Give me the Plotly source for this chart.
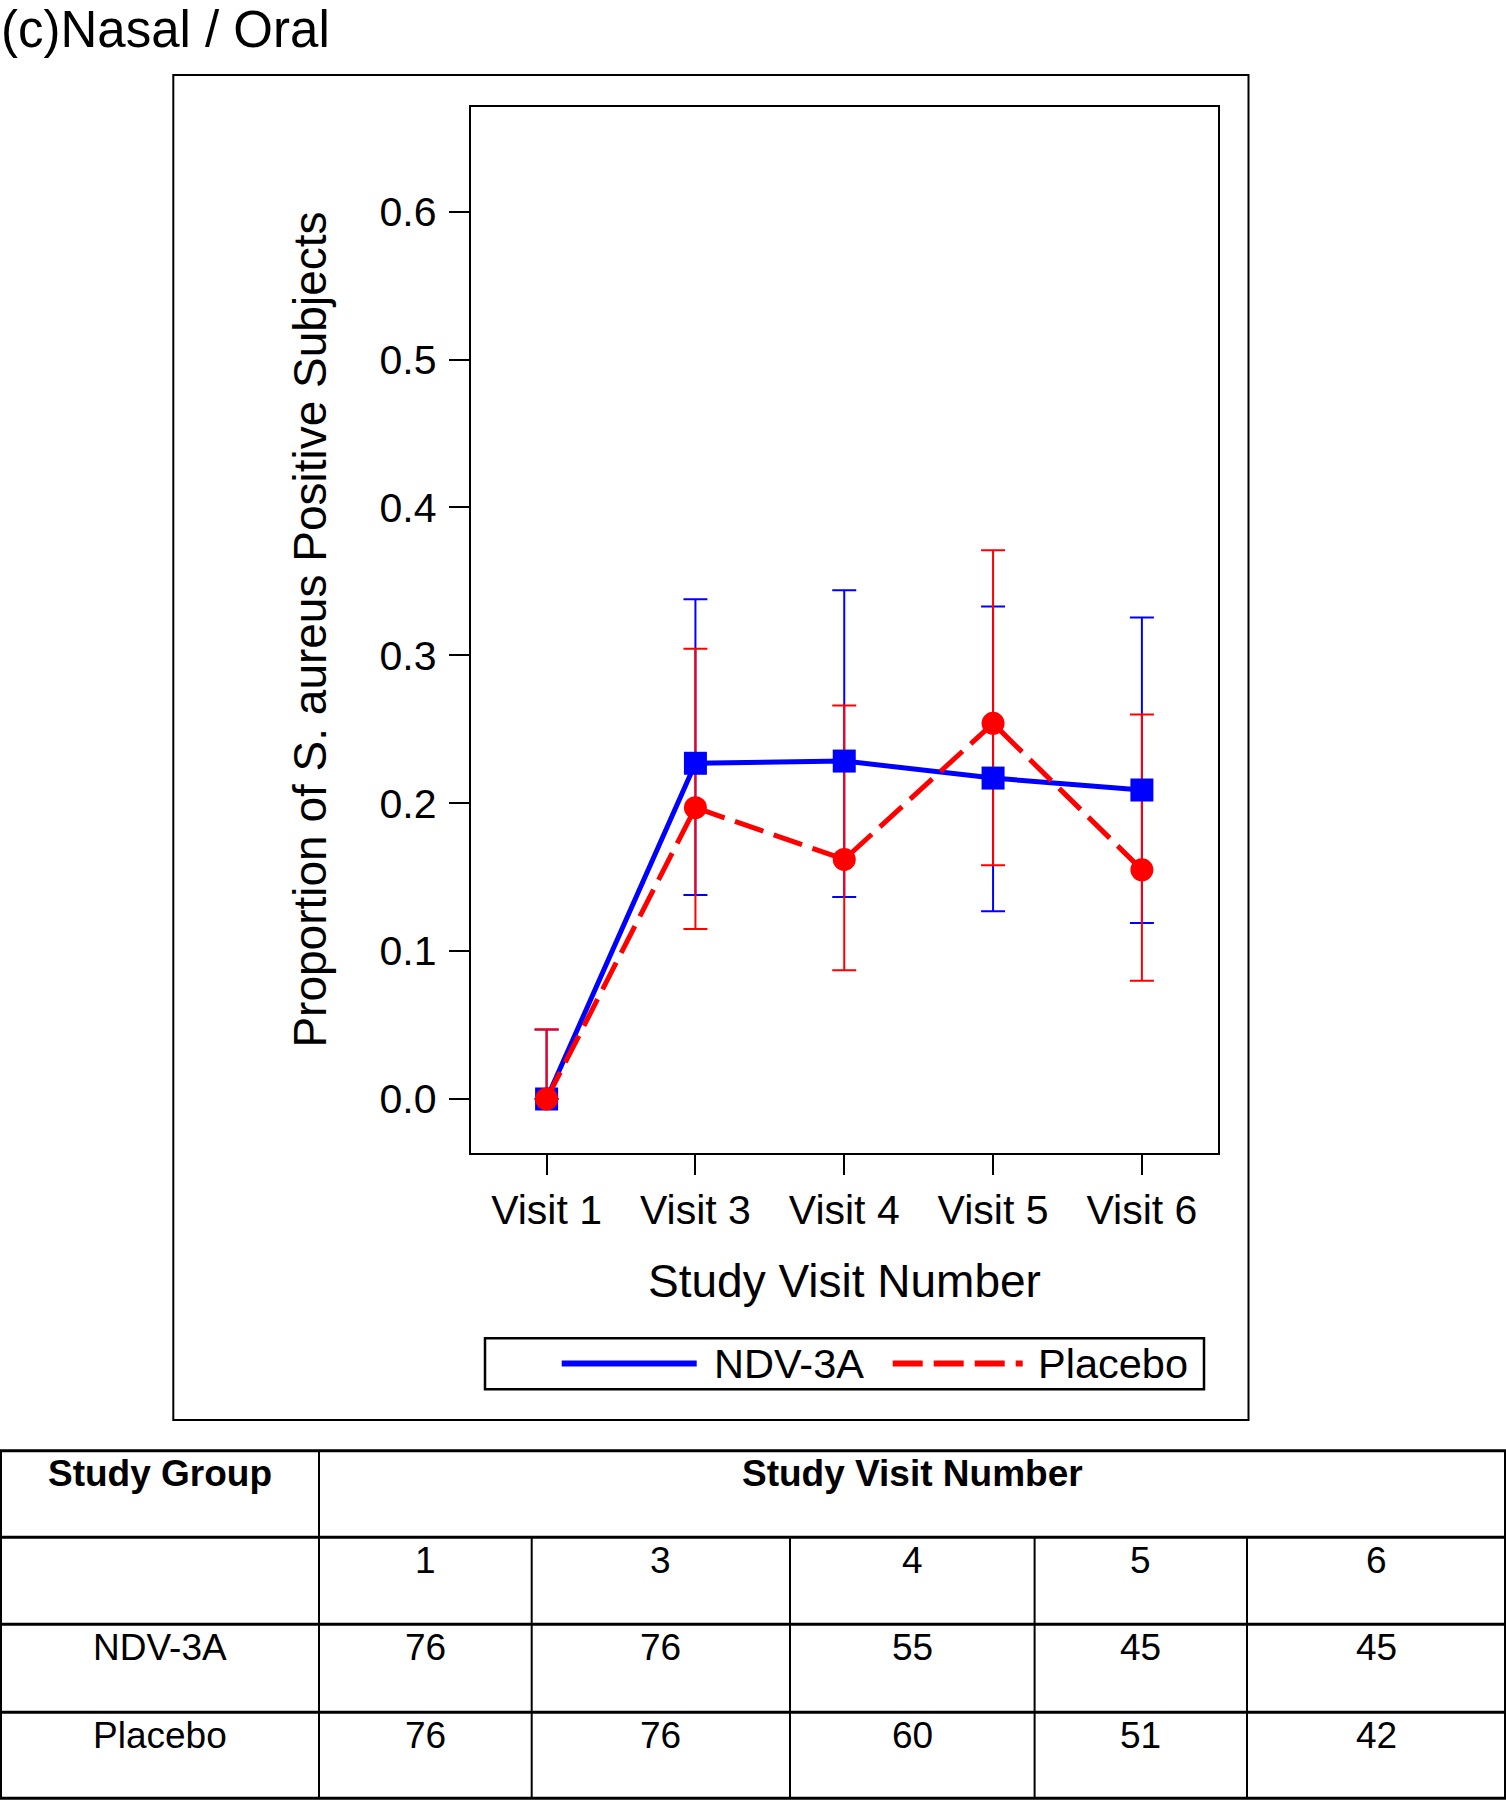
import plotly.graph_objects as go

# ---------------- data ----------------
visits = ["Visit 1", "Visit 3", "Visit 4", "Visit 5", "Visit 6"]

ndv_prop = [0.0, 0.227, 0.2285, 0.217, 0.209]
ndv_upper = [0.047, 0.338, 0.344, 0.333, 0.3255]
ndv_lower = [0.0, 0.138, 0.1366, 0.127, 0.119]

pla_prop = [0.0, 0.197, 0.162, 0.254, 0.155]
pla_upper = [0.047, 0.3045, 0.266, 0.371, 0.260]
pla_lower = [0.0, 0.115, 0.087, 0.158, 0.080]

y_ticks = [0.0, 0.1, 0.2, 0.3, 0.4, 0.5, 0.6]

table_group_header = "Study Group"
table_visit_header = "Study Visit Number"
table_visit_numbers = ["1", "3", "4", "5", "6"]
table_groups = ["NDV-3A", "Placebo"]
table_ndv_n = [76, 76, 55, 45, 45]
table_pla_n = [76, 76, 60, 51, 42]

title_text = "(c)Nasal / Oral"
x_title = "Study Visit Number"
y_title = "Proportion of S. aureus Positive Subjects"

# ---------------- layout helpers ----------------
W, H = 1506, 1800
FONT = "Liberation Sans, Arial, Helvetica, sans-serif"
BLUE = "#0000FF"
RED = "#FF0000"
DASH = "30px,11px"


def px(x):
    return x / W


def py(y):
    return 1 - y / H


def err_plus(p, up):
    return [u - v for u, v in zip(up, p)]


def err_minus(p, lo):
    return [v - l for v, l in zip(p, lo)]


fig = go.Figure()

# error bars first (so all markers sit on top)
fig.add_trace(go.Scatter(
    x=visits, y=ndv_prop, mode="markers", showlegend=False, hoverinfo="skip",
    marker=dict(size=1, color="rgba(0,0,0,0)"),
    error_y=dict(type="data", symmetric=False,
                 array=err_plus(ndv_prop, ndv_upper),
                 arrayminus=err_minus(ndv_prop, ndv_lower),
                 color=BLUE, thickness=2, width=12)))
fig.add_trace(go.Scatter(
    x=visits, y=pla_prop, mode="markers", showlegend=False, hoverinfo="skip",
    marker=dict(size=1, color="rgba(0,0,0,0)"),
    error_y=dict(type="data", symmetric=False,
                 array=err_plus(pla_prop, pla_upper),
                 arrayminus=err_minus(pla_prop, pla_lower),
                 color=RED, thickness=2, width=12)))

fig.add_trace(go.Scatter(
    x=visits, y=ndv_prop, mode="lines+markers", name="NDV-3A", showlegend=False,
    line=dict(color=BLUE, width=5),
    marker=dict(symbol="square", size=23, color=BLUE, line=dict(width=0))))
fig.add_trace(go.Scatter(
    x=visits, y=pla_prop, mode="lines+markers", name="Placebo", showlegend=False,
    line=dict(color=RED, width=5, dash=DASH),
    marker=dict(symbol="circle", size=23, color=RED, line=dict(width=0))))

plot_l, plot_r, plot_t, plot_b = 470.7, 1217.8, 106.7, 1152.5

axis_common = dict(showgrid=False, zeroline=False, showline=True, mirror=True,
                   linecolor="black", linewidth=2, ticks="outside", ticklen=20,
                   tickwidth=2, tickcolor="black",
                   tickfont=dict(family=FONT, size=41, color="black"))

fig.update_layout(
    width=W, height=H,
    margin=dict(l=0, r=0, t=0, b=0),
    paper_bgcolor="white", plot_bgcolor="white",
    showlegend=False,
    font=dict(family=FONT, color="black"),
    xaxis=dict(domain=[px(plot_l), px(plot_r)], type="category",
               range=[-0.51, 4.51], **axis_common),
    yaxis=dict(domain=[py(plot_b), py(plot_t)], range=[-0.0362, 0.671],
               tickvals=y_ticks, tickformat=".1f", ticklabelstandoff=4,
               **axis_common),
)

shapes = []
annotations = []


def hline(x0, x1, y, w):
    shapes.append(dict(type="line", xref="paper", yref="paper",
                       x0=px(x0), x1=px(x1), y0=py(y), y1=py(y),
                       line=dict(color="black", width=w)))


def vline(x, y0, y1, w):
    shapes.append(dict(type="line", xref="paper", yref="paper",
                       x0=px(x), x1=px(x), y0=py(y0), y1=py(y1),
                       line=dict(color="black", width=w)))


def text(t, x, y, size, xanchor="center", yanchor="middle", angle=0):
    annotations.append(dict(text=t, x=px(x), y=py(y), xref="paper", yref="paper",
                            xanchor=xanchor, yanchor=yanchor, showarrow=False,
                            textangle=angle, borderpad=0,
                            font=dict(family=FONT, size=size, color="black")))


# outer frame
shapes.append(dict(type="rect", xref="paper", yref="paper",
                   x0=px(173.3), x1=px(1248.5), y0=py(1420), y1=py(75),
                   line=dict(color="black", width=2)))

# title and axis titles
text(title_text, 0, 0, 51, xanchor="left", yanchor="top")
text(x_title, (plot_l + plot_r) / 2, 1281, 46)
text(y_title, 310, (plot_t + plot_b) / 2, 46, angle=-90)

# legend
shapes.append(dict(type="rect", xref="paper", yref="paper",
                   x0=px(485), x1=px(1204), y0=py(1389.3), y1=py(1338.3),
                   line=dict(color="black", width=2.5)))
shapes.append(dict(type="line", xref="paper", yref="paper",
                   x0=px(561.7), x1=px(696.7), y0=py(1363.5), y1=py(1363.5),
                   line=dict(color=BLUE, width=6)))
shapes.append(dict(type="line", xref="paper", yref="paper",
                   x0=px(892.7), x1=px(1022.7), y0=py(1363.5), y1=py(1363.5),
                   line=dict(color=RED, width=6, dash=DASH)))
text("NDV-3A", 713, 1363, 41.5, xanchor="left")
text("Placebo", 1037, 1363, 41.5, xanchor="left")

# table
row_y = [1450.7, 1537.3, 1624.3, 1712.3, 1798.3]
col_x = [0, 319, 531.7, 790, 1034.6, 1247, 1506]
for y in row_y:
    hline(0, W, y, 3)
vline(1, row_y[0], row_y[-1], 2)
vline(col_x[1], row_y[0], row_y[-1], 2)
vline(1505, row_y[0], row_y[-1], 2)
for x in col_x[2:-1]:
    vline(x, row_y[1], row_y[-1], 2)

TF = 37
off = 22.7
text("<b>%s</b>" % table_group_header, (col_x[0] + col_x[1]) / 2, row_y[0] + off, TF)
text("<b>%s</b>" % table_visit_header, (col_x[1] + col_x[-1]) / 2, row_y[0] + off, TF)
for i, v in enumerate(table_visit_numbers):
    text(v, (col_x[i + 1] + col_x[i + 2]) / 2, row_y[1] + off, TF)
for r, (g, vals) in enumerate(zip(table_groups, [table_ndv_n, table_pla_n])):
    ry = row_y[2 + r] + off
    text(g, (col_x[0] + col_x[1]) / 2, ry, TF)
    for i, v in enumerate(vals):
        text(str(v), (col_x[i + 1] + col_x[i + 2]) / 2, ry, TF)

fig.update_layout(shapes=shapes, annotations=annotations)

fig.write_html(
    "out.html",
    config={"displayModeBar": False},
    post_script="document.body.style.margin='0px';document.body.style.padding='0px';",
)
